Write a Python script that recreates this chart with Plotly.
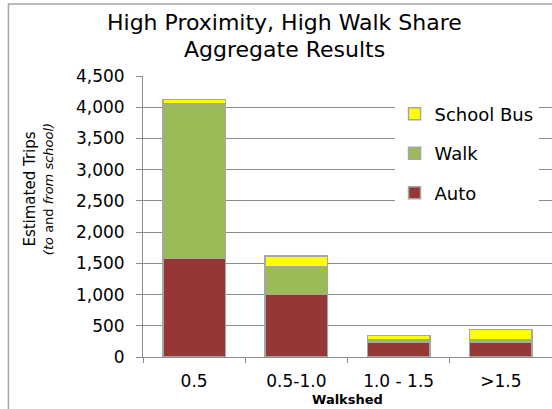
import plotly.graph_objects as go

categories = ["0.5", "0.5-1.0", "1.0 - 1.5", ">1.5"]
auto = [1575, 1000, 230, 230]
walk = [2475, 450, 50, 50]
school_bus = [75, 165, 65, 160]

y_ticks = [0, 500, 1000, 1500, 2000, 2500, 3000, 3500, 4000, 4500]
y_ticktext = ["0", "500", "1,000", "1,500", "2,000", "2,500", "3,000", "3,500", "4,000", "4,500"]

FONT = "DejaVu Sans"
border = dict(color="#a6a6a6", width=1.5)

fig = go.Figure()
fig.add_trace(go.Bar(name="Auto", x=categories, y=auto, marker=dict(color="#953735", line=border),
                     legendgroup="a", legendrank=3))
fig.add_trace(go.Bar(name="Walk", x=categories, y=walk, marker=dict(color="#9BBB59", line=border),
                     legendgroup="w", legendrank=2))
fig.add_trace(go.Bar(name="School Bus", x=categories, y=school_bus, marker=dict(color="#FFFF00", line=border),
                     legendgroup="s", legendrank=1))

fig.update_layout(
    width=552, height=409,
    margin=dict(l=143, r=0, t=76, b=52),
    barmode="stack", bargap=0.39,
    paper_bgcolor="white", plot_bgcolor="white",
    font=dict(family=FONT, color="black", size=17),
    legend=dict(x=0.615, y=0.93, xanchor="left", yanchor="top", bgcolor="white",
                traceorder="grouped", tracegroupgap=13,
                font=dict(family=FONT, size=18), itemwidth=30),
    showlegend=True,
)
fig.update_yaxes(range=[0, 4500], tickvals=y_ticks, ticktext=y_ticktext,
                 showgrid=True, gridcolor="#8c8c8c", gridwidth=1,
                 showline=True, linecolor="#8c8c8c", linewidth=1,
                 ticks="outside", ticklen=6, tickcolor="#8c8c8c",
                 ticklabelstandoff=8, zeroline=False,
                 tickfont=dict(family=FONT, size=17))
fig.update_xaxes(showline=True, linecolor="#8c8c8c", linewidth=1,
                 ticks="outside", ticklen=5, tickcolor="#8c8c8c",
                 tickson="boundaries", showgrid=False, ticklabelstandoff=9,
                 tickfont=dict(family=FONT, size=17))

# Title (two lines)
fig.add_annotation(text="High Proximity, High Walk Share", xref="paper", yref="paper",
                   x=0.345, y=1.192, showarrow=False, xanchor="center", yanchor="middle",
                   font=dict(family=FONT, size=22, color="black"))
fig.add_annotation(text="Aggregate Results", xref="paper", yref="paper",
                   x=0.345, y=1.096, showarrow=False, xanchor="center", yanchor="middle",
                   font=dict(family=FONT, size=22, color="black"))

# x-axis title
fig.add_annotation(text="<b>Walkshed</b>", xref="paper", yref="paper",
                   x=0.5, y=-0.15, showarrow=False, xanchor="center", yanchor="middle",
                   font=dict(family=FONT, size=13, color="black"))

# y-axis title
fig.add_annotation(text="<span style='font-size:15px'>Estimated Trips</span><br>"
                        "<span style='font-size:13px'><i>(to</i> and <i>from school)</i></span>",
                   xref="paper", yref="paper", x=-0.257, y=0.597, textangle=-90,
                   showarrow=False, font=dict(family=FONT, size=14, color="black"),
                   xanchor="center", yanchor="middle")

fig.add_shape(type="rect", xref="paper", yref="paper",
              x0=-0.329, x1=1.2, y0=-0.5, y1=1.2565,
              line=dict(color="#a6a6a6", width=1.5), fillcolor="rgba(0,0,0,0)", layer="below")

fig.write_html("out.html", config={"displayModeBar": False},
               post_script="document.body.style.margin='0';document.body.style.overflow='hidden';")
